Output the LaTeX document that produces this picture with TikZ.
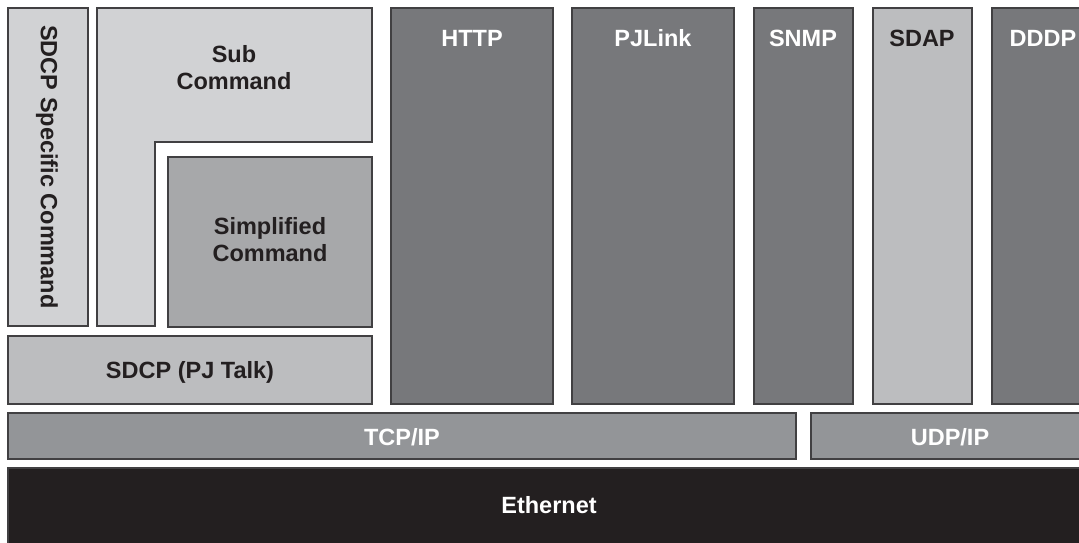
\documentclass[tikz,border=0pt]{standalone}
\usepackage{fontspec}
\setmainfont{Liberation Sans}
\definecolor{bord}{HTML}{414042}
\definecolor{lt}{HTML}{D1D2D4}
\definecolor{md}{HTML}{BCBDBF}
\definecolor{sc}{HTML}{A7A8AA}
\definecolor{dk}{HTML}{77787B}
\definecolor{tcp}{HTML}{939598}
\definecolor{eth}{HTML}{231F20}
\definecolor{txt}{HTML}{231F20}
\begin{document}
\begin{tikzpicture}[x=1pt,y=-1pt,
  box/.style={draw=bord, line width=2.6pt},
  lbl/.style={font=\fontsize{23.5}{27}\selectfont\bfseries, align=center, inner sep=0pt, text=txt},
  wlbl/.style={lbl, text=white}]
\useasboundingbox (0,0) rectangle (1079,543);
\clip (0,0) rectangle (1079,543);
% boxes
\draw[box, fill=lt] (8,8) rectangle (88,326);
\draw[box, fill=lt] (97,8) -- (372,8) -- (372,142) -- (155,142) -- (155,326) -- (97,326) -- cycle;
\draw[box, fill=sc] (168,157) rectangle (372,327);
\draw[box, fill=md] (8,336) rectangle (372,404);
\draw[box, fill=dk] (391,8) rectangle (553,404);
\draw[box, fill=dk] (572,8) rectangle (734,404);
\draw[box, fill=dk] (754,8) rectangle (853,404);
\draw[box, fill=md] (873,8) rectangle (972,404);
\draw[box, fill=dk] (992,8) rectangle (1096,404);
\draw[box, fill=tcp] (8,413) rectangle (796,459);
\draw[box, fill=tcp] (811,413) rectangle (1090,459);
\draw[box, fill=eth] (8,468) rectangle (1090,552);
% labels
\node[lbl, rotate=-90] (spec) at (47,167) {SDCP Specific Command};
\node[lbl] (sub) at (234,68) {Sub\\Command};
\node[lbl] (simp) at (270,240) {Simplified\\Command};
\node[lbl] (pjtalk) at (190,372) {SDCP (PJ Talk)};
\node[wlbl] (http) at (472,38) {HTTP};
\node[wlbl] (pjlink) at (653,38) {PJLink};
\node[wlbl] (snmp) at (803,38) {SNMP};
\node[lbl] (sdap) at (922,38) {SDAP};
\node[wlbl] (dddp) at (1043,38) {DDDP};
\node[wlbl] (tcpip) at (402,437) {TCP/IP};
\node[wlbl] (udpip) at (950,437) {UDP/IP};
\node[wlbl] (ethernet) at (549,505) {Ethernet};
\end{tikzpicture}
\end{document}
